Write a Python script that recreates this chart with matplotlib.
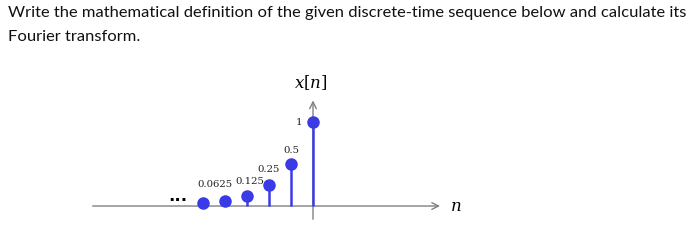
import matplotlib.pyplot as plt

# sequence x[n] = (1/2)^(-n) u[-n], only the visible samples
n = [-5, -4, -3, -2, -1, 0]
x = [0.03125, 0.0625, 0.125, 0.25, 0.5, 1.0]
label_n = [-4, -3, -2, -1, 0]
label_text = ['0.0625', '0.125', '0.25', '0.5', '1']
label_offsets = [(-7.5, 12), (2, 10), (0, 11.5), (0, 10), (-10, 0)]  # points

question = ('Write the mathematical definition of the given discrete-time sequence below and calculate its\n'
            'Fourier transform.')

blue = '#3a3ae6'
gray = '#808080'

fig = plt.figure(figsize=(7, 2.4), dpi=100)
fig.text(0.011, 0.975, question, ha='left', va='top', fontsize=11.85,
         family='Lato', linespacing=1.9, color='#111111')

ax = fig.add_axes([0.1143, 0.0208, 0.5714, 0.6875])
ax.set_xlim(-10.59, 7.59)
ax.set_ylim(-0.345, 1.619)
ax.axis('off')

# axes with open arrow heads
ax.annotate('', xy=(5.9, 0), xytext=(-10.14, 0),
            arrowprops=dict(arrowstyle='->', color=gray, lw=1.0, mutation_scale=12), zorder=1)
ax.annotate('', xy=(0, 1.29), xytext=(0, -0.19),
            arrowprops=dict(arrowstyle='->', color=gray, lw=1.0, mutation_scale=12), zorder=1)

ax.text(6.5, 0, '$n$', ha='center', va='center', fontsize=12, math_fontfamily='dejavuserif')
ax.text(-0.1, 1.47, '$x[n]$', ha='center', va='center', fontsize=12, math_fontfamily='dejavuserif')

markerline, stemlines, baseline = ax.stem(n, x, linefmt='-', markerfmt='o', basefmt=' ')
markerline.set_color(blue)
markerline.set_markersize(8)
markerline.set_zorder(4)
stemlines.set_color(blue)
stemlines.set_linewidth(1.8)
stemlines.set_zorder(3)

for k, t, off in zip(label_n, label_text, label_offsets):
    ax.annotate(t, xy=(k, x[n.index(k)]), xytext=off, textcoords='offset points',
                ha='center', va='center', fontsize=7.3, family='DejaVu Serif', color='#222222')

ax.text(-6.15, 0.12, '...', ha='center', va='center', fontsize=12, fontweight='bold')

fig.savefig('out.png', dpi=100)
